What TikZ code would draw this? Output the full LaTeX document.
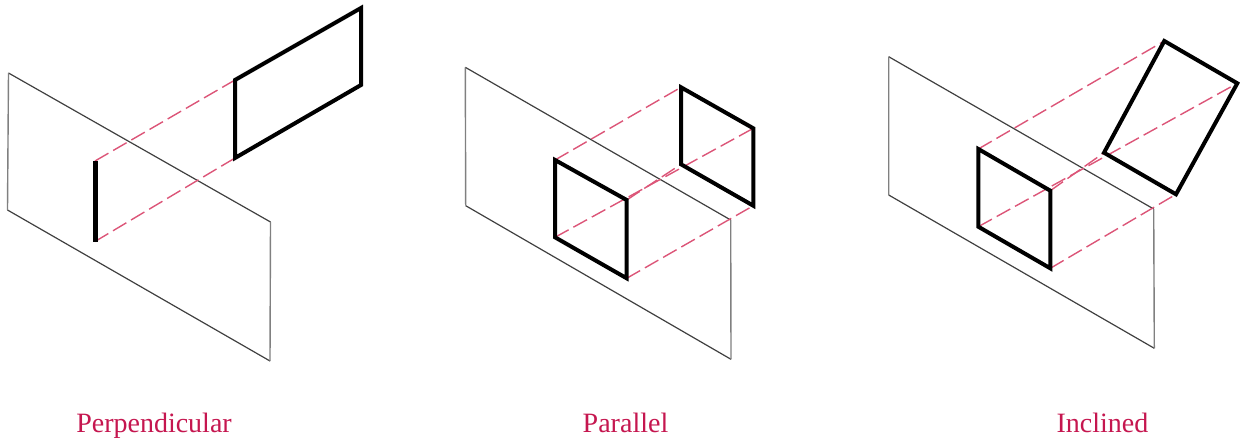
\documentclass[tikz,border=0pt]{standalone}
\usepackage{fontspec}
\setmainfont{Liberation Serif}
\definecolor{crimson}{HTML}{C5164F}
\definecolor{dashpink}{HTML}{DC5578}
\tikzset{
  planeedge/.style={draw=black!75,line width=1.2pt,line join=miter},
  planeside/.style={draw=black!50,line width=1.4pt},
  objedge/.style={draw=black,line width=4pt,line join=miter},
  proj/.style={draw=dashpink,line width=1.4pt,dash pattern=on 15.5pt off 5.5pt},
  caption/.style={text=crimson,font=\fontsize{28}{32}\selectfont,inner sep=0pt,anchor=base}
}
\begin{document}
\begin{tikzpicture}[x=1pt,y=-1pt]
\useasboundingbox (0,0) rectangle (1240,441);
% Panel 1
\coordinate (a1) at (8.5,73); \coordinate (a2) at (270.5,222);
\coordinate (a3) at (270,361); \coordinate (a4) at (7.5,210);
\draw[planeedge] (a1) -- (a2) (a3) -- (a4);
\draw[planeside] (a2) -- (a3) (a4) -- (a1);
\coordinate (l1) at (95,161); \coordinate (l2) at (95,241.5);
\coordinate (r1) at (235,80); \coordinate (r2) at (361,8);
\coordinate (r3) at (361,85); \coordinate (r4) at (235,158);
\draw[proj] (l1) -- (r1);
\draw[proj] (l2) -- (r4);
\draw[draw=black,line width=5pt] (l1) -- (l2);
\draw[objedge] (r1) -- (r2) -- (r3) -- (r4) -- cycle;
\node[caption] (c1) at (154,432) {Perpendicular};
% Panel 2
\coordinate (b1) at (465.3,67.3); \coordinate (b2) at (730.7,220);
\coordinate (b3) at (731,359.3); \coordinate (b4) at (465.7,205.7);
\draw[planeedge] (b1) -- (b2) (b3) -- (b4);
\draw[planeside] (b2) -- (b3) (b4) -- (b1);
\coordinate (f1) at (555,160); \coordinate (f2) at (626.7,200);
\coordinate (f3) at (626.7,278.3); \coordinate (f4) at (555,237.3);
\coordinate (k1) at (681,87.3); \coordinate (k2) at (753.3,128.3);
\coordinate (k3) at (753.3,205.7); \coordinate (k4) at (681,164.3);
\draw[proj] (f1) -- (k1);
\draw[proj] (f2) -- (k4);
\draw[proj] (f4) -- (k2);
\draw[proj] (f3) -- (k3);
\draw[objedge] (f1) -- (f2) -- (f3) -- (f4) -- cycle;
\draw[objedge] (k1) -- (k2) -- (k3) -- (k4) -- cycle;
\node[caption] (c2) at (625.5,432) {Parallel};
% Panel 3
\coordinate (p1) at (888.7,56.7); \coordinate (p2) at (1153.7,209);
\coordinate (p3) at (1154.3,348.3); \coordinate (p4) at (888.7,195);
\draw[planeedge] (p1) -- (p2) (p3) -- (p4);
\draw[planeside] (p2) -- (p3) (p4) -- (p1);
\coordinate (g1) at (978.3,149); \coordinate (g2) at (1050.3,190.7);
\coordinate (g3) at (1050.3,268.3); \coordinate (g4) at (978.3,226.7);
\coordinate (h1) at (1164.3,41); \coordinate (h2) at (1237.3,83.3);
\coordinate (h3) at (1176,194.3); \coordinate (h4) at (1104,152.7);
\draw[proj] (g1) -- (h1);
\draw[proj] (g2) -- (h4);
\draw[proj] (g4) -- (h2);
\draw[proj] (g3) -- (h3);
\draw[objedge] (g1) -- (g2) -- (g3) -- (g4) -- cycle;
\draw[objedge] (h1) -- (h2) -- (h3) -- (h4) -- cycle;
\node[caption] (c3) at (1102.5,432) {Inclined};
\end{tikzpicture}
\end{document}
